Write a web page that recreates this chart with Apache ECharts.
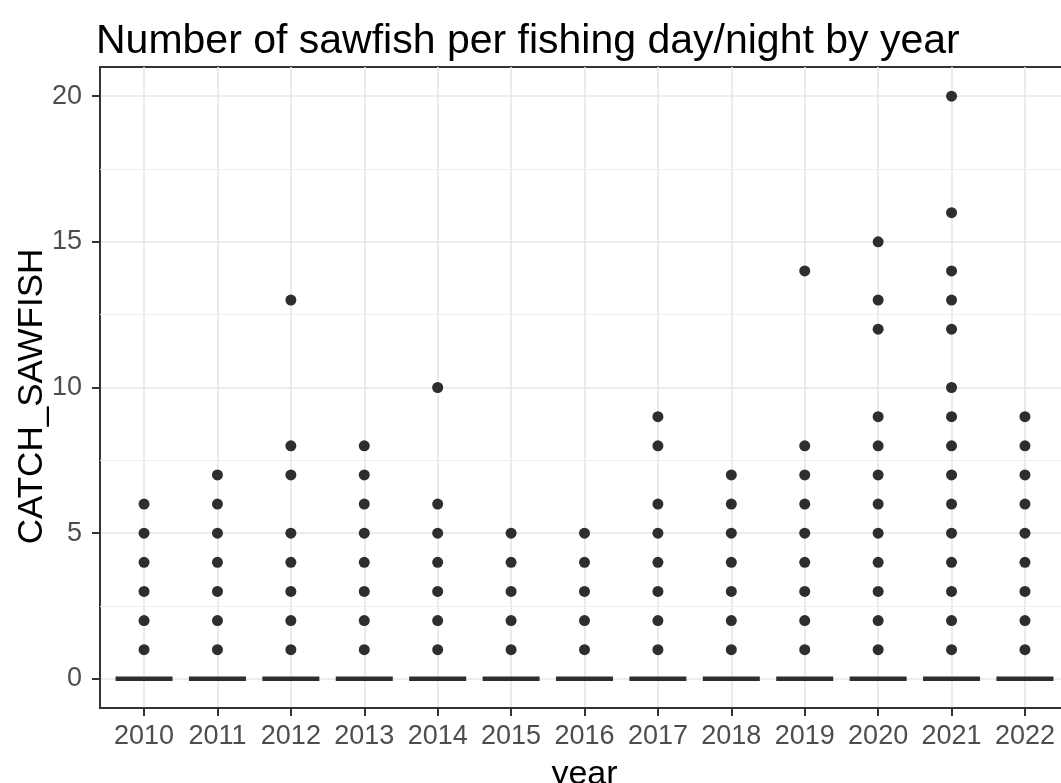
<!DOCTYPE html>
<html>
<head>
<meta charset="utf-8">
<title>Number of sawfish per fishing day/night by year</title>
<script src="https://cdn.jsdelivr.net/npm/echarts@6/dist/echarts.min.js"></script>
<style>
  html, body { margin: 0; padding: 0; background: #ffffff; }
  #chart { width: 1061px; height: 783px; }
</style>
</head>
<body>
<div id="chart"></div>
<script>
// Distinct sawfish catch counts recorded per fishing day/night, by year
const years = [2010, 2011, 2012, 2013, 2014, 2015, 2016, 2017, 2018, 2019, 2020, 2021, 2022];
const catch2010 = [0, 1, 2, 3, 4, 5, 6];
const catch2011 = [0, 1, 2, 3, 4, 5, 6, 7];
const catch2012 = [0, 1, 2, 3, 4, 5, 7, 8, 13];
const catch2013 = [0, 1, 2, 3, 4, 5, 6, 7, 8];
const catch2014 = [0, 1, 2, 3, 4, 5, 6, 10];
const catch2015 = [0, 1, 2, 3, 4, 5];
const catch2016 = [0, 1, 2, 3, 4, 5];
const catch2017 = [0, 1, 2, 3, 4, 5, 6, 8, 9];
const catch2018 = [0, 1, 2, 3, 4, 5, 6, 7];
const catch2019 = [0, 1, 2, 3, 4, 5, 6, 7, 8, 14];
const catch2020 = [0, 1, 2, 3, 4, 5, 6, 7, 8, 9, 12, 13, 15];
const catch2021 = [0, 1, 2, 3, 4, 5, 6, 7, 8, 9, 10, 12, 13, 14, 16, 20];
const catch2022 = [0, 1, 2, 3, 4, 5, 6, 7, 8, 9];

// Axis breaks
const yBreaks = [0, 5, 10, 15, 20];
const yMinorBreaks = [2.5, 7.5, 12.5, 17.5];
const xLimits = [2009.4, 2022.6];
const yLimits = [-1, 21];

const catchLists = [catch2010, catch2011, catch2012, catch2013, catch2014, catch2015, catch2016,
                    catch2017, catch2018, catch2019, catch2020, catch2021, catch2022];

const points = [];
years.forEach((yr, i) => {
  catchLists[i].forEach(v => points.push([yr, v]));
});

const FONT = '"Liberation Sans", Arial, Helvetica, sans-serif';
const INK = '#2e2e2e';
const GRID_MAJOR = '#e6e6e6';
const GRID_MINOR = '#eeeeee';

const chart = echarts.init(document.getElementById('chart'), null, { renderer: 'canvas' });

chart.setOption({
  backgroundColor: '#ffffff',
  animation: false,
  title: {
    text: 'Number of sawfish per fishing day/night by year',
    left: 91,
    top: 16,
    textStyle: { fontFamily: FONT, fontSize: 41, fontWeight: 'normal', color: '#000000' }
  },
  grid: {
    left: 100,
    top: 67,
    width: 969,
    height: 641,
    show: true,
    backgroundColor: '#ffffff',
    borderColor: '#333333',
    borderWidth: 2,
    outerBoundsMode: 'none',
    containLabel: false
  },
  xAxis: {
    type: 'value',
    min: xLimits[0],
    max: xLimits[1],
    name: 'year',
    nameLocation: 'middle',
    nameGap: 50,
    nameMoveOverlap: false,
    nameTextStyle: { fontFamily: FONT, fontSize: 34, color: '#000000' },
    axisLine: { show: true, onZero: false, lineStyle: { color: '#333333', width: 2 } },
    axisTick: { show: true, length: 8, customValues: years, lineStyle: { color: '#333333', width: 2 } },
    axisLabel: {
      show: true,
      customValues: years,
      margin: 15,
      fontFamily: FONT,
      fontSize: 27,
      color: '#4d4d4d',
      formatter: v => String(v)
    },
    splitLine: { show: true, lineStyle: { color: GRID_MAJOR, width: 1.6 } },
    minorSplitLine: { show: false }
  },
  yAxis: {
    type: 'value',
    min: yLimits[0],
    max: yLimits[1],
    name: 'CATCH_SAWFISH',
    nameLocation: 'middle',
    nameRotate: 90,
    nameGap: 50,
    nameMoveOverlap: false,
    nameTextStyle: { fontFamily: FONT, fontSize: 35, color: '#000000', padding: [0, 18, 0, 0] },
    axisLine: { show: true, onZero: false, lineStyle: { color: '#333333', width: 2 } },
    axisTick: { show: true, length: 8, customValues: yBreaks, lineStyle: { color: '#333333', width: 2 } },
    axisLabel: {
      show: true,
      customValues: yBreaks,
      margin: 18,
      fontFamily: FONT,
      fontSize: 27,
      color: '#4d4d4d',
      formatter: v => String(v)
    },
    splitLine: { show: true, lineStyle: { color: GRID_MAJOR, width: 1.6 } }
  },
  series: [
    {
      // minor horizontal grid lines
      type: 'line',
      data: [],
      silent: true,
      z: 1,
      markLine: {
        silent: true,
        symbol: 'none',
        label: { show: false },
        animation: false,
        lineStyle: { color: GRID_MINOR, width: 1, type: 'solid' },
        data: yMinorBreaks.map(v => ({ yAxis: v }))
      }
    },
    {
      type: 'scatter',
      data: points,
      z: 3,
      symbol: (val) => (val[1] === 0 ? 'rect' : 'circle'),
      symbolSize: (val) => (val[1] === 0 ? [57, 4.5] : 11),
      itemStyle: { color: INK, opacity: 1 },
      emphasis: { disabled: true }
    }
  ]
});
</script>
</body>
</html>
